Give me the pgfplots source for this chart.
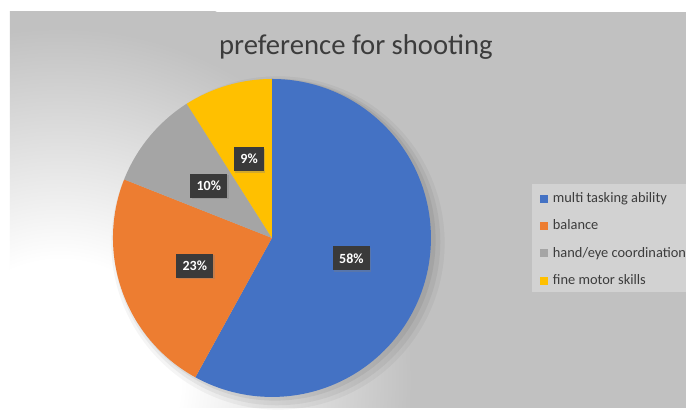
\documentclass[border=0pt]{standalone}
\usepackage{fontspec}
\setmainfont{Carlito}
\usepackage{pgfplots}
\pgfplotsset{compat=1.18}
\usetikzlibrary{shadows}
\definecolor{cA}{HTML}{4472C4}
\definecolor{cB}{HTML}{ED7D31}
\definecolor{cC}{HTML}{A5A5A5}
\definecolor{cD}{HTML}{FFC000}
\definecolor{bggray}{HTML}{C1C1C1}
\definecolor{legbg}{HTML}{D2D2D2}
\definecolor{txt}{HTML}{3C3C3C}
\definecolor{lblbg}{HTML}{3A3A3A}
\pgfdeclareradialshading{bgshade}{\pgfpoint{0bp}{0bp}}{color(0bp)=(white); color(7.5bp)=(white); color(22bp)=(bggray); color(50bp)=(bggray)}
\tikzset{lbl/.style={fill=lblbg, text=white, font=\fontsize{10.5}{12}\selectfont\bfseries,
    inner xsep=4.8pt, minimum height=18pt,
    drop shadow={opacity=0.35, shadow xshift=1pt, shadow yshift=-1pt}}}
\begin{document}
\begin{tikzpicture}
% data (percent)
\def\vA{58}\def\vB{23}\def\vC{10}\def\vD{9}
\pgfmathsetmacro\aA{90}
\pgfmathsetmacro\aB{\aA-3.6*\vA}
\pgfmathsetmacro\aC{\aB-3.6*\vB}
\pgfmathsetmacro\aD{\aC-3.6*\vC}
\pgfmathsetmacro\aE{\aD-3.6*\vD}
\pgfmathsetmacro\mA{(\aA+\aB)/2}
\pgfmathsetmacro\mB{(\aB+\aC)/2}
\pgfmathsetmacro\mC{(\aC+\aD)/2}
\pgfmathsetmacro\mD{(\aD+\aE)/2}
\def\R{119.25pt}
\def\L{61.5pt}
\begin{axis}[
  x=0.75pt, y=0.75pt, xmin=0, xmax=686, ymin=0, ymax=408,
  hide axis, clip=false,
  legend image code/.code={\fill[#1] (0pt,-3pt) rectangle (6pt,3pt);},
  legend style={at={(axis cs:540,215.5)}, anchor=north west, draw=none, fill=none,
    inner sep=0pt, outer sep=0pt, row sep=11pt,
    font=\fontsize{10.8}{12}\selectfont, text=txt,
    nodes={inner sep=0pt, text height=7.5pt, text depth=2pt},
    /tikz/every odd column/.append style={column sep=3.75pt}},
  legend cell align=left,
]
\fill[white] (axis cs:0,0) rectangle (axis cs:686,408);
\begin{scope}
\clip (axis cs:10,0) rectangle (axis cs:686,396);
\fill[bggray] (axis cs:10,0) rectangle (axis cs:686,396);
\shade[shading=bgshade] (axis cs:60,28) circle (300pt);
\end{scope}
\fill[legbg] (axis cs:532,116) rectangle (axis cs:686,224);
% pie shadow
\fill[black, opacity=0.04] (axis cs:278,165) circle (125pt);
\fill[black, opacity=0.05] (axis cs:277,166) circle (122.5pt);
\fill[black, opacity=0.06] (axis cs:275,168) circle (120.5pt);
% slices
\fill[cA] (axis cs:272,170) -- ([shift={(\aA:\R)}]axis cs:272,170) arc[start angle=\aA, end angle=\aB, radius=\R] -- cycle;
\fill[cB] (axis cs:272,170) -- ([shift={(\aB:\R)}]axis cs:272,170) arc[start angle=\aB, end angle=\aC, radius=\R] -- cycle;
\fill[cC] (axis cs:272,170) -- ([shift={(\aC:\R)}]axis cs:272,170) arc[start angle=\aC, end angle=\aD, radius=\R] -- cycle;
\fill[cD] (axis cs:272,170) -- ([shift={(\aD:\R)}]axis cs:272,170) arc[start angle=\aD, end angle=\aE, radius=\R] -- cycle;
% labels
\node[lbl] at ([shift={(\mA:\L)}]axis cs:272,170) {\vA\%};
\node[lbl] at ([shift={(\mB:\L)}]axis cs:272,170) {\vB\%};
\node[lbl] at ([shift={(\mC:\L)}]axis cs:272,170) {\vC\%};
\node[lbl] at ([shift={(\mD:\L)}]axis cs:272,170) {\vD\%};
% title
\node[anchor=base, font=\fontsize{21.5}{24}\selectfont, text=txt] at (axis cs:356,353) {preference for shooting};
\addlegendimage{fill=cA, draw=none}
\addlegendimage{fill=cB, draw=none}
\addlegendimage{fill=cC, draw=none}
\addlegendimage{fill=cD, draw=none}
\legend{multi tasking ability, balance, hand/eye coordination, fine motor skills}
\end{axis}
\end{tikzpicture}
\end{document}
